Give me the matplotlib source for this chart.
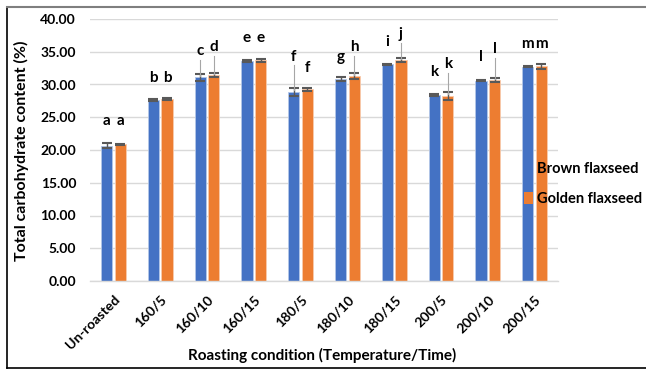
import matplotlib
matplotlib.use("Agg")
import matplotlib.pyplot as plt
import numpy as np
from matplotlib.lines import Line2D
from matplotlib.patches import Patch

categories = ["Un-roasted", "160/5", "160/10", "160/15", "180/5", "180/10",
              "180/15", "200/5", "200/10", "200/15"]
brown = [20.65, 27.6, 31.1, 33.6, 28.9, 30.9, 33.1, 28.4, 30.6, 32.7]
golden = [20.85, 27.8, 31.45, 33.7, 29.25, 31.3, 33.7, 28.2, 30.7, 32.8]
brown_err = [0.4, 0.15, 0.5, 0.1, 0.6, 0.3, 0.1, 0.1, 0.1, 0.1]
golden_err = [0.1, 0.15, 0.3, 0.25, 0.2, 0.4, 0.3, 0.6, 0.3, 0.4]
brown_letters = ["a", "b", "c", "e", "f", "g", "i", "k", "l", "m"]
golden_letters = ["a", "b", "d", "e", "f", "h", "j", "k", "l", "m"]
brown_label_y = [23.3, 30.0, 34.0, 36.0, 33.2, 33.1, 35.4, 30.8, 33.1, 35.1]
golden_label_y = [23.3, 30.0, 34.6, 36.0, 31.5, 34.6, 36.6, 32.0, 34.3, 35.1]
brown_leader = [False, False, True, False, True, False, False, False, False, False]
golden_leader = [False, False, True, False, False, True, True, True, True, False]

FONT = "Lato"
plt.rcParams["font.family"] = [FONT, "DejaVu Sans"]
plt.rcParams["font.weight"] = "bold"

fig = plt.figure(figsize=(6.46, 3.70), dpi=100)
ax = fig.add_axes([90/646, 1-281/370, 468/646, 262/370])

x = np.arange(len(categories))
w = 0.24
off = 0.145
blue = "#4472C4"
orange = "#ED7D31"
ax.bar(x - off, brown, w, color=blue, edgecolor="#B4C7E7", linewidth=0.6, zorder=2)
ax.bar(x + off, golden, w, color=orange, edgecolor="#F8CBAD", linewidth=0.6, zorder=2)
ax.errorbar(x - off, brown, yerr=brown_err, fmt="none", ecolor="#595959",
            elinewidth=1, capsize=3.5, capthick=1.5, zorder=3)
ax.errorbar(x + off, golden, yerr=golden_err, fmt="none", ecolor="#595959",
            elinewidth=1, capsize=3.5, capthick=1.5, zorder=3)

for xs, vals, errs, letters, ly, leads in [
        (x - off, brown, brown_err, brown_letters, brown_label_y, brown_leader),
        (x + off, golden, golden_err, golden_letters, golden_label_y, golden_leader)]:
    for xi, v, e, l, yy, lead in zip(xs, vals, errs, letters, ly, leads):
        ax.text(xi, yy, l, ha="center", va="bottom", fontsize=11,
                fontweight="bold", color="#000000", zorder=4)
        if lead:
            ax.plot([xi, xi], [yy - 0.2, v + e * 0.5], color="#A6A6A6",
                    linewidth=0.8, zorder=4)

ax.set_xlim(-0.5, len(categories) - 0.5)
ax.set_ylim(0, 40)
ax.set_yticks(np.arange(0, 40.01, 5))
ax.set_yticklabels([f"{v:.2f}" for v in np.arange(0, 40.01, 5)],
                   fontsize=10, fontweight="bold")
ax.set_xticks(x)
ax.set_xticklabels(categories, rotation=45, ha="right", rotation_mode="anchor",
                   fontsize=10, fontweight="bold")
ax.tick_params(axis="y", length=0, pad=10)
ax.tick_params(axis="x", length=0, pad=9)
ax.grid(axis="y", color="#D9D9D9", linewidth=1, zorder=0)
ax.set_axisbelow(True)
for s in ["top", "right", "left"]:
    ax.spines[s].set_visible(False)
ax.spines["bottom"].set_color("#D9D9D9")
ax.spines["bottom"].set_linewidth(1)

fig.text(21/646, 1-151/370, "Total carbohydrate content (%)", rotation=90,
         ha="center", va="center", fontsize=11.5, fontweight="bold")
fig.text(322/646, 1-355/370, "Roasting condition (Temperature/Time)",
         ha="center", va="center", fontsize=11, fontweight="bold")

handles = [Patch(facecolor=blue, edgecolor="none"), Patch(facecolor=orange, edgecolor="none")]
fig.legend(handles, ["Brown flaxseed", "Golden flaxseed"], loc="center left",
           bbox_to_anchor=(524/646, 1-184/370), frameon=False,
           prop={"family": FONT, "weight": "bold", "size": 10.5},
           handlelength=0.6, handleheight=0.9, handletextpad=0.3,
           labelspacing=1.1, borderaxespad=0, borderpad=0)

# outer frame
fig.add_artist(Line2D([7/646, 7/646], [1-6.5/370, 1-368/370], color="#000000",
                      linewidth=1.2, transform=fig.transFigure))
fig.add_artist(Line2D([7/646, 1], [1-368/370, 1-368/370], color="#000000",
                      linewidth=1.2, transform=fig.transFigure))
fig.add_artist(Line2D([7/646, 1], [1-6.5/370, 1-6.5/370], color="#7F7F7F",
                      linewidth=1.5, transform=fig.transFigure))

fig.savefig("out.png", dpi=100)
